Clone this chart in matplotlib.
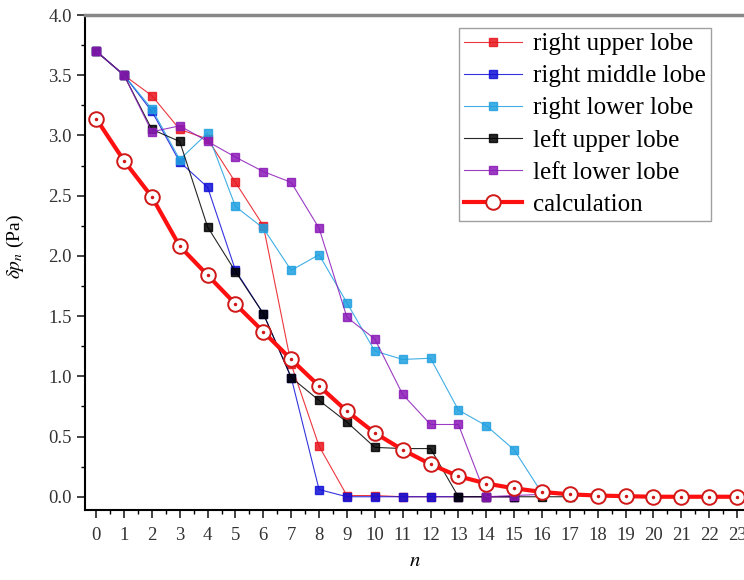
import numpy as np
import matplotlib
matplotlib.use("Agg")
import matplotlib.pyplot as plt
from matplotlib.ticker import MultipleLocator, FormatStrFormatter

plt.rcParams['font.family'] = ['Liberation Serif', 'DejaVu Serif']
plt.rcParams['mathtext.fontset'] = 'stix'

labels = ["right upper lobe", "right middle lobe", "right lower lobe",
          "left upper lobe", "left lower lobe"]
colors = ["#e8141c", "#1010d8", "#20a0e0", "#000000", "#8a1ab8"]

right_upper = [3.70, 3.50, 3.33, 3.05, 2.97, 2.61, 2.25, 1.10, 0.42, 0.01, 0.01,
               0.00, 0.00, 0.00, 0.00, 0.00]
right_middle = [3.70, 3.50, 3.20, 2.78, 2.57, 1.88, 1.52, 0.99, 0.06, 0.00, 0.00,
                0.00, 0.00, 0.00, 0.00, 0.00]
right_lower = [3.70, 3.50, 3.22, 2.80, 3.02, 2.41, 2.23, 1.88, 2.01, 1.61, 1.21,
               1.14, 1.15, 0.72, 0.59, 0.39, 0.03, 0.01]
left_upper = [3.70, 3.50, 3.05, 2.95, 2.24, 1.87, 1.52, 0.99, 0.80, 0.62, 0.41,
              0.40, 0.40, 0.00, 0.00, 0.00, 0.00, 0.00]
left_lower = [3.70, 3.50, 3.03, 3.08, 2.95, 2.82, 2.70, 2.61, 2.23, 1.49, 1.31,
              0.85, 0.60, 0.60, 0.00, 0.01, 0.02]
calculation = [3.14, 2.79, 2.49, 2.08, 1.84, 1.60, 1.37, 1.14, 0.92, 0.71, 0.53,
               0.39, 0.27, 0.17, 0.11, 0.07, 0.04, 0.02, 0.01, 0.005, 0.0, 0.0,
               0.0, 0.0]
series = [right_upper, right_middle, right_lower, left_upper, left_lower]

fig = plt.figure(figsize=(7.44, 5.80), dpi=100)
ax = fig.add_axes([85/744, 1-510/580, 1-85/744, (510-15)/580])

for vals, lab, c in zip(series, labels, colors):
    n = np.arange(len(vals))
    ax.plot(n, vals, '-', color=c, lw=0.8, alpha=0.85, marker='s', ms=6,
            mfc=c, mec=c, label=lab, zorder=3)

nc = np.arange(len(calculation))
ax.plot(nc, calculation, '-', color='#ff1010', lw=3, marker='o', ms=10.5,
        mfc='white', mec='#d01818', mew=1.4, label='calculation', zorder=4)
ax.plot(nc, calculation, 'o', color='#d01818', ms=1.5, zorder=5)

ax.set_xlim(-0.4, 23.25)
ax.set_ylim(-0.11, 4.0)
ax.xaxis.set_major_locator(MultipleLocator(1))
ax.xaxis.set_minor_locator(MultipleLocator(0.5))
ax.yaxis.set_major_locator(MultipleLocator(0.5))
ax.yaxis.set_minor_locator(MultipleLocator(0.25))
ax.yaxis.set_major_formatter(FormatStrFormatter('%.1f'))
ax.tick_params(which='major', direction='out', length=6, width=1.2,
               labelsize=13.5, colors='#222222', labelcolor='#333333')
ax.tick_params(which='minor', direction='out', length=3, width=1)
ax.tick_params(axis='x', pad=6)
ax.spines['right'].set_visible(False)
ax.spines['top'].set_color('#888888')
ax.spines['top'].set_linewidth(2.5)
ax.spines['left'].set_linewidth(1.5)
ax.spines['bottom'].set_linewidth(1.5)

ax.set_xlabel(r'$n$', fontsize=15, labelpad=6)
ax.set_ylabel(r'$\delta p_n$ (Pa)', fontsize=14)
ax.yaxis.set_label_coords(-0.09, 0.533)

leg = ax.legend(loc='upper right', bbox_to_anchor=(0.95, 0.974),
                fontsize=18, frameon=True, fancybox=False, edgecolor='#888888',
                handlelength=2.3, handletextpad=0.45, labelspacing=0.38,
                borderpad=0.2, borderaxespad=0, markerscale=1.0)
leg.get_frame().set_linewidth(1.0)

fig.savefig('out.png', dpi=100)
